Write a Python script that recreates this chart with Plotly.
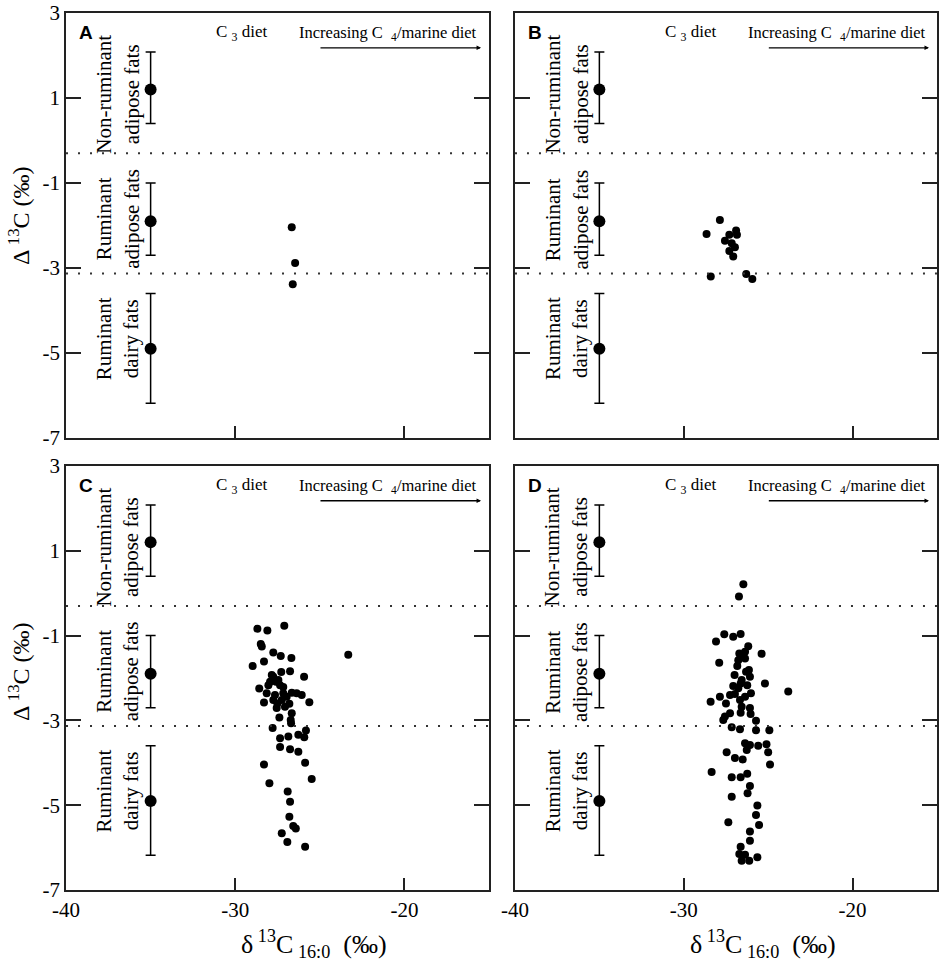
import plotly.graph_objects as go

# reference fat ranges (plotted at x = -35)
ref_x = [-35, -35, -35]
ref_y = [1.2, -1.9, -4.9]
ref_plus = [0.88, 0.9, 1.3]
ref_minus = [0.8, 0.8, 1.28]
ref_labels = ["Non-ruminant<br>adipose fats", "Ruminant<br>adipose fats", "Ruminant<br>dairy fats"]
ref_label_y = [1.09, -1.85, -4.66]

# boundaries between fat groups
boundaries = [-0.3, -3.13]

# panel A
a_x = [-26.66, -26.46, -26.6]
a_y = [-2.04, -2.88, -3.38]

# panel B
b_x = [-27.86, -28.65, -26.9, -27.3, -26.85, -27.56, -27.16, -26.97, -27.3, -27.07,
       -28.4, -26.3, -25.94]
b_y = [-1.87, -2.2, -2.12, -2.22, -2.22, -2.36, -2.42, -2.51, -2.6, -2.73,
       -3.2, -3.14, -3.26]

# panel C
c_x = [-28.69, -28.10, -27.10, -28.49, -28.43, -27.75, -27.31, -26.68, -23.32, -28.97,
       -28.30, -26.76, -27.28, -25.93, -27.75, -27.84, -27.94, -27.45, -27.59, -28.58,
       -28.04, -27.16, -27.35, -28.14, -27.65, -27.16, -26.66, -26.37, -26.07, -26.96,
       -28.30, -27.75, -27.25, -26.80, -25.62, -27.51, -27.55, -27.06, -26.66, -27.39,
       -26.72, -26.70, -27.79, -25.82, -26.27, -25.92, -27.35, -26.86, -27.35, -26.76,
       -26.27, -25.87, -28.30, -25.48, -27.98, -26.90, -26.76, -26.80, -26.57, -26.42,
       -27.25, -26.92, -25.87]
c_y = [-0.84, -0.88, -0.77, -1.20, -1.26, -1.40, -1.48, -1.53, -1.45, -1.72,
       -1.61, -1.84, -1.86, -1.97, -1.97, -1.93, -2.09, -2.05, -2.09, -2.25,
       -2.17, -2.21, -2.17, -2.36, -2.40, -2.36, -2.35, -2.36, -2.40, -2.44,
       -2.58, -2.52, -2.52, -2.61, -2.57, -2.60, -2.71, -2.68, -2.83, -2.93,
       -2.99, -3.07, -3.18, -3.24, -3.34, -3.40, -3.42, -3.38, -3.63, -3.68,
       -3.74, -4.00, -4.04, -4.38, -4.48, -4.68, -4.92, -5.27, -5.49, -5.55,
       -5.66, -5.87, -5.98]

# panel D
d_x = [-26.47, -26.73, -27.60, -27.07, -26.63, -28.09, -26.18, -26.37, -26.71, -25.39,
       -26.37, -26.77, -26.63, -27.90, -26.83, -26.14, -26.31, -26.08, -26.99, -26.57,
       -25.19, -27.07, -26.24, -26.63, -26.77, -26.02, -23.81, -27.26, -27.86, -26.97,
       -26.37, -28.41, -27.50, -26.67, -26.57, -26.08, -27.26, -26.63, -27.56, -26.04,
       -27.66, -25.72, -27.16, -26.67, -25.72, -24.93, -26.37, -26.08, -25.59, -25.10,
       -26.27, -25.00, -27.46, -26.97, -26.51, -24.89, -28.35, -27.16, -26.63, -26.24,
       -26.08, -26.22, -27.16, -25.64, -25.72, -27.36, -25.54, -26.08, -26.08, -26.63,
       -26.71, -26.37, -25.64, -26.57, -26.12]
d_y = [0.21, -0.08, -0.97, -1.03, -0.96, -1.14, -1.25, -1.38, -1.42, -1.43,
       -1.54, -1.58, -1.50, -1.64, -1.72, -1.81, -1.85, -1.97, -1.93, -2.05,
       -2.13, -2.19, -2.17, -2.13, -2.24, -2.36, -2.32, -2.40, -2.44, -2.38,
       -2.44, -2.56, -2.60, -2.52, -2.68, -2.71, -2.83, -2.82, -2.91, -2.85,
       -2.99, -3.01, -3.16, -3.21, -3.23, -3.23, -3.54, -3.58, -3.60, -3.56,
       -3.70, -3.75, -3.75, -3.89, -3.92, -4.04, -4.22, -4.34, -4.34, -4.26,
       -4.55, -4.72, -4.80, -5.01, -5.23, -5.40, -5.47, -5.62, -5.84, -5.98,
       -6.15, -6.17, -6.23, -6.31, -6.31]

panels = [("A", a_x, a_y), ("B", b_x, b_y), ("C", c_x, c_y), ("D", d_x, d_y)]

x_ticks = [-40, -30, -20]
x_tick_text = ["-40", "-30", "-20"]
y_ticks = [3, 1, -1, -3, -5, -7]
y_tick_text = ["3", "1", "-1", "-3", "-5", "-7"]

serif = "Liberation Serif"
fig = go.Figure()

x_domains = [[0.070, 0.5186], [0.5461, 0.9936], [0.070, 0.5186], [0.5461, 0.9936]]
y_domains = [[0.5442, 0.9865], [0.5442, 0.9865], [0.0739, 0.5151], [0.0739, 0.5151]]

annotations = []
shapes = []
for i, (letter, px, py) in enumerate(panels):
    n = "" if i == 0 else str(i + 1)
    xa, ya = "x" + n, "y" + n
    # reference ranges
    fig.add_trace(go.Scatter(
        x=ref_x, y=ref_y, mode="markers", xaxis=xa, yaxis=ya,
        marker=dict(color="black", size=12),
        error_y=dict(type="data", symmetric=False, array=ref_plus, arrayminus=ref_minus,
                     color="black", thickness=1.5, width=5),
        showlegend=False,
    ))
    # samples
    fig.add_trace(go.Scatter(
        x=px, y=py, mode="markers", xaxis=xa, yaxis=ya,
        marker=dict(color="black", size=8),
        showlegend=False,
    ))
    for b in boundaries:
        shapes.append(dict(type="line", xref=xa, yref=ya, x0=-40, x1=-15, y0=b, y1=b,
                           line=dict(color="#333", width=2, dash="2px,10px")))
    for lab, ly in zip(ref_labels, ref_label_y):
        annotations.append(dict(xref=xa, yref=ya, x=-36.95, y=ly, text=lab, textangle=-90,
                                showarrow=False, font=dict(family=serif, size=21, color="black")))
    annotations.append(dict(xref=xa + " domain", yref=ya + " domain", x=0.025, y=0.983,
                            xanchor="left", yanchor="top", text="<b>" + letter + "</b>",
                            showarrow=False, font=dict(family="Liberation Sans", size=19, color="black")))
    annotations.append(dict(xref=xa, yref=ya, x=-29.6, y=2.53, text="C <sub>3</sub> diet",
                            showarrow=False, font=dict(family=serif, size=17, color="black")))
    annotations.append(dict(xref=xa, yref=ya, x=-20.95, y=2.53,
                            text="Increasing C  <sub>4</sub>/marine diet",
                            showarrow=False, font=dict(family=serif, size=16.5, color="black")))
    annotations.append(dict(xref=xa, yref=ya, axref=xa, ayref=ya, x=-15.47, y=2.18,
                            ax=-25.05, ay=2.18, text="", showarrow=True, arrowhead=2,
                            arrowsize=0.7, arrowwidth=1.3, arrowcolor="black"))

    bottom = i >= 2
    left = i % 2 == 0
    fig.layout[("xaxis" + n)] = dict(
        domain=x_domains[i], anchor=ya, range=[-40, -15],
        tickmode="array", tickvals=x_ticks, ticktext=x_tick_text,
        ticks="inside", ticklen=12, tickwidth=1.5, tickcolor="#222",
        showline=True, linecolor="#222", linewidth=1.5, mirror=True,
        showgrid=False, zeroline=False, showticklabels=bottom, automargin=False,
        tickfont=dict(family=serif, size=21, color="black"),
    )
    fig.layout[("yaxis" + n)] = dict(
        domain=y_domains[i], anchor=xa, range=[-7, 3],
        tickmode="array", tickvals=y_ticks, ticktext=y_tick_text,
        ticks="inside", ticklen=15, tickwidth=1.5, tickcolor="#222",
        showline=True, linecolor="#222", linewidth=1.5, mirror="ticks",
        showgrid=False, zeroline=False, showticklabels=left, automargin=False,
        tickfont=dict(family=serif, size=21, color="black"),
    )

# axis titles
x_title = "δ<sup> 13</sup>C<sub> 16:0</sub>  (‰)"
y_title = "Δ<sup> 13</sup>C (‰)"
for xp in [0.333, 0.809]:
    annotations.append(dict(xref="paper", yref="paper", x=xp, y=0.018, text=x_title,
                            xanchor="center", yanchor="middle",
                            showarrow=False, font=dict(family=serif, size=26, color="black")))
for yp in [0.7752, 0.3007]:
    annotations.append(dict(xref="paper", yref="paper", x=0.020, y=yp, text=y_title, textangle=-90,
                            xanchor="center", yanchor="middle",
                            showarrow=False, font=dict(family=serif, size=24, color="black")))

fig.update_layout(
    width=943, height=961,
    margin=dict(l=0, r=0, t=0, b=0, pad=0, autoexpand=False),
    plot_bgcolor="white", paper_bgcolor="white",
    annotations=annotations, shapes=shapes,
    font=dict(family=serif, color="black"),
)

fig.write_html("out.html", config={"displayModeBar": False},
               post_script="document.body.style.margin='0px';")
